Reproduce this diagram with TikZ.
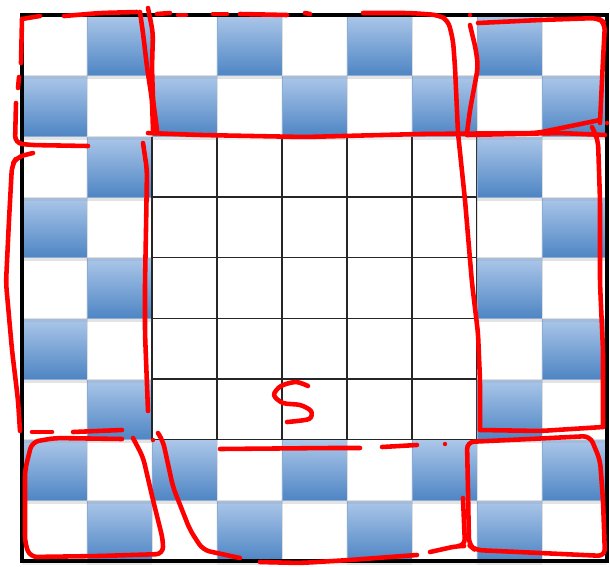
\documentclass[tikz,border=0pt]{standalone}
\usepackage{xcolor}
\usepackage{tikz}
\usetikzlibrary{shadows}

\definecolor{celltop}{RGB}{172,199,233}
\definecolor{cellbot}{RGB}{78,133,196}
\definecolor{celledge}{RGB}{140,172,212}
\definecolor{markred}{RGB}{255,0,0}

\begin{document}
\begin{tikzpicture}[
        x=0.02cm, y=-0.02cm,
        bluecell/.style={
            top color=celltop,
            bottom color=cellbot,
            draw=celledge,
            line width=0.3pt,
            drop shadow={opacity=0.22, shadow xshift=0pt, shadow yshift=-2pt}
        },
        whitecell/.style={
            fill=white,
            draw=gray!25,
            line width=0.3pt,
            drop shadow={opacity=0.12, shadow xshift=0pt, shadow yshift=-2pt}
        },
        innercell/.style={
            fill=white,
            draw=black!85,
            line width=0.9pt
        },
        frame/.style={
            draw=black,
            line width=1.8pt
        },
        redline/.style={
            draw=markred,
            line width=2.6pt,
            line cap=round,
            line join=round,
            rounded corners=4pt
        }
    ]

    \useasboundingbox (0,0) rectangle (610,566);

    % Board (bottom row first, so shadows fall on the row below)
    \foreach \r in {8,7,...,0} {
        \foreach \c in {0,...,8} {
            \pgfmathtruncatemacro{\inside}{(\c>1)*(\c<7)*(\r>1)*(\r<7)}
            \pgfmathtruncatemacro{\odd}{mod(\r+\c,2)}
            \ifnum\inside=1
                \path[innercell] (22+65*\c, 15+60.67*\r) rectangle ++(65,60.67);
            \else
                \ifnum\odd=1
                    \path[bluecell] (22+65*\c, 15+60.67*\r) rectangle ++(65,60.67);
                \else
                    \path[whitecell] (22+65*\c, 15+60.67*\r) rectangle ++(65,60.67);
                \fi
            \fi
        }
    }

    % Frame
    \draw[frame] (22,15) rectangle (607,561);

    % Top-left block
    \draw[redline] (22,19) -- (40,16);
    \draw[redline] (64,16) -- (100,13) -- (137,12);
    \draw[redline] (22,19) -- (21,63);
    \draw[redline] (19,77) -- (18,88);
    \draw[redline] (16,103) -- (15,143) -- (30,145) -- (88,146);
    \draw[redline] (140,12) -- (143,33) -- (147,67) -- (152,100) -- (153,130);
    \draw[redline] (148,8) -- (153,33) -- (152,67) -- (153,100) -- (157,130);

    % Top band
    \draw[redline] (157,14) -- (170,13);
    \draw[redline] (178,15) -- (186,15);
    \draw[redline] (213,14) -- (227,14);
    \draw[redline] (240,14) -- (287,15);
    \draw[redline] (305,13) -- (310,14);
    \draw[redline] (363,13) -- (410,13) -- (438,15) -- (448,20) -- (453,40) -- (455,67) -- (458,133)
        -- (465,200) -- (472,283) -- (478,333) -- (480,380) -- (480,430);
    \draw[redline] (148,133) -- (200,135) -- (305,137) -- (420,134) -- (537,133) -- (600,120);
    \draw[redline] (467,135) -- (560,133) -- (605,135);

    % Top-right block
    \draw[redline] (470,25) -- (476,50) -- (478,67) -- (470,110) -- (467,133);
    \draw[redline] (478,23) -- (540,20) -- (598,18) -- (605,23) -- (603,60) -- (600,123);
    \fill[markred] (470,15) circle (2.2);
    \fill[markred] (607,123) circle (2.2);

    % Left band
    \draw[redline] (33,153) -- (17,157) -- (12,165) -- (9,220) -- (6,283) -- (12,350) -- (18,400) -- (20,431);
    \draw[redline] (143,143) -- (147,170) -- (146,230) -- (145,283) -- (145,333) -- (148,411);
    \draw[redline] (32,432) -- (52,432);
    \draw[redline] (73,432) -- (122,430);

    % Right band
    \draw[redline] (480,430) -- (540,431) -- (603,427);
    \draw[redline] (592,127) -- (598,140) -- (600,200) -- (600,283) -- (603,350) -- (603,427);

    % Bottom-left block
    \draw[redline] (122,439) -- (55,438) -- (32,442) -- (25,470) -- (25,543) -- (30,557) -- (100,556)
        -- (163,554) -- (163,540) -- (153,500) -- (143,457) -- (133,438);

    % Bottom band
    \draw[redline] (158,433) -- (163,441) -- (173,487) -- (190,530) -- (203,550) -- (240,558);
    \draw[redline] (220,449) -- (330,448) -- (360,448);
    \draw[redline] (382,447) -- (417,445);
    \fill[markred] (445,444) circle (2.2);
    \fill[markred] (153,440) circle (2.2);
    \draw[redline] (260,562) -- (300,563) -- (350,560) -- (417,555);
    \draw[redline] (430,552) -- (457,546) -- (465,546) -- (463,498);

    % Bottom-right block
    \draw[redline] (467,442) -- (530,439) -- (590,436) -- (600,460) -- (603,500) -- (605,556)
        -- (540,553) -- (475,550) -- (469,545) -- (468,490) -- cycle;

    % S
    \draw[redline, rounded corners=0pt] plot[smooth] coordinates {(308,386) (296,382) (281,386) (274,395) (283,403) (300,405) (311,411) (309,419) (287,422)};

\end{tikzpicture}
\end{document}
